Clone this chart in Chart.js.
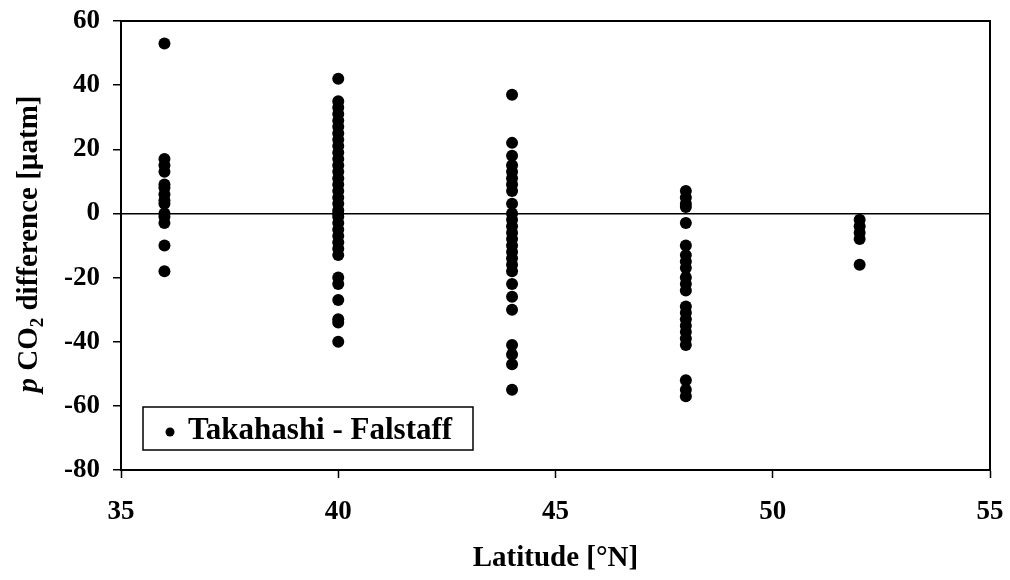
<!DOCTYPE html>
<html>
<head>
<meta charset="utf-8">
<script src="https://cdn.jsdelivr.net/npm/chart.js@4"></script>
<style>
  html, body { margin: 0; padding: 0; background: #fff; }
  #wrap { width: 1010px; height: 580px; position: relative; }
</style>
</head>
<body>
<div id="wrap"><canvas id="pco2Chart"></canvas></div>
<script>
// pCO2 difference (Takahashi - Falstaff) per latitude band
const latitudes = [36, 40, 44, 48, 52];
const diff36 = [53, 17, 15, 13, 9, 8, 6, 4, 3, 0, -1, -3, -10, -18];
const diff40 = [42, 35, 33, 31, 29, 27, 25, 23, 21, 19, 17, 15, 13, 11, 9, 7, 5, 3, 1, 0,
  -1, -3, -5, -7, -9, -11, -13, -20, -22, -27, -33, -34, -40];
const diff44 = [37, 22, 18, 15, 13, 11, 9, 7, 3, 0, -2, -4, -6, -8, -10, -12, -14, -16, -18,
  -22, -26, -30, -41, -44, -47, -55];
const diff48 = [7, 5, 3, 2, -3, -10, -13, -15, -17, -20, -22, -24, -29, -31, -33, -35, -37,
  -39, -41, -52, -55, -57];
const diff52 = [-2, -4, -6, -8, -16];
const yTicks = [-80, -60, -40, -20, 0, 20, 40, 60];
const xTicks = [35, 40, 45, 50, 55];

const groups = [diff36, diff40, diff44, diff48, diff52];
const points = [];
groups.forEach((vals, i) => {
  vals.forEach(v => points.push({ x: latitudes[i], y: v }));
});

const FONT = "'Liberation Serif', 'Times New Roman', serif";

// frame, axis titles and the inset legend
const decorations = {
  id: "decorations",
  afterDraw(chart) {
    const { ctx, chartArea: a } = chart;
    ctx.save();
    ctx.strokeStyle = "#000";
    ctx.lineWidth = 2;
    ctx.strokeRect(a.left, a.top, a.right - a.left, a.bottom - a.top);

    // x title
    ctx.fillStyle = "#000";
    ctx.font = "bold 29px " + FONT;
    ctx.textAlign = "center";
    ctx.textBaseline = "middle";
    ctx.fillText("Latitude [°N]", (a.left + a.right) / 2, 559);

    // y title with italic p and subscript 2
    const parts = [
      { t: "p", f: "italic bold 29px " + FONT, dy: 0 },
      { t: " CO", f: "bold 29px " + FONT, dy: 0 },
      { t: "2", f: "bold 19px " + FONT, dy: 8 },
      { t: " difference [µatm]", f: "bold 29px " + FONT, dy: 0 },
    ];
    let total = 0;
    parts.forEach(p => { ctx.font = p.f; p.w = ctx.measureText(p.t).width; total += p.w; });
    ctx.translate(30, 244);
    ctx.rotate(-Math.PI / 2);
    ctx.textAlign = "left";
    let x = -total / 2;
    parts.forEach(p => {
      ctx.font = p.f;
      ctx.fillText(p.t, x, p.dy);
      x += p.w;
    });
    ctx.setTransform(1, 0, 0, 1, 0, 0);

    // legend box
    ctx.lineWidth = 1.5;
    ctx.strokeRect(143, 407, 330, 43);
    ctx.beginPath();
    ctx.arc(170, 432, 4.5, 0, Math.PI * 2);
    ctx.fill();
    ctx.font = "bold 31px " + FONT;
    ctx.textAlign = "left";
    ctx.textBaseline = "middle";
    ctx.fillText(chart.data.datasets[0].label, 188, 431);
    ctx.restore();
  },
};

const ctx = document.getElementById("pco2Chart").getContext("2d");
const chart = new Chart(ctx, {
  type: "scatter",
  data: {
    datasets: [
      {
        label: "Takahashi - Falstaff",
        data: points,
        backgroundColor: "#000",
        borderColor: "#000",
        borderWidth: 0,
        pointRadius: 6,
      },
    ],
  },
  options: {
    responsive: true,
    maintainAspectRatio: false,
    animation: false,
    layout: { padding: { top: 21, right: 20, left: 0, bottom: 0 } },
    plugins: { legend: { display: false }, tooltip: { enabled: false } },
    scales: {
      x: {
        type: "linear",
        min: 35,
        max: 55,
        afterBuildTicks: s => { s.ticks = xTicks.map(v => ({ value: v })); },
        afterFit: s => {
          s.height = 110;
          s.paddingLeft = 0;
          s.paddingRight = 0;
        },
        grid: { color: "transparent", tickColor: "#000", tickLength: 8, tickWidth: 1.5 },
        border: { display: true, color: "#000", width: 2 },
        ticks: { color: "#000", font: { family: FONT, size: 27, weight: "bold" }, padding: 18 },
      },
      y: {
        min: -80,
        max: 60,
        afterBuildTicks: s => { s.ticks = yTicks.map(v => ({ value: v })); },
        afterFit: s => {
          s.width = 121;
          s.paddingTop = 0;
          s.paddingBottom = 0;
        },
        grid: {
          color: c => (c.tick && c.tick.value === 0 ? "#000" : "transparent"),
          lineWidth: 1.5,
          tickColor: "#000",
          tickLength: 8,
          tickWidth: 1.5,
        },
        border: { display: true, color: "#000", width: 2 },
        ticks: { color: "#000", font: { family: FONT, size: 27, weight: "bold" }, padding: 13 },
      },
    },
  },
  plugins: [decorations],
});
</script>
</body>
</html>
